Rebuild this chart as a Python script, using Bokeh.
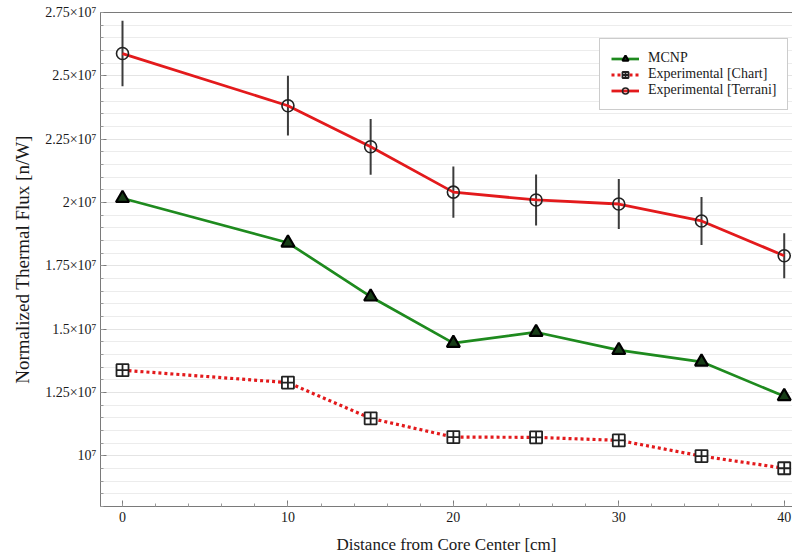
from bokeh.plotting import figure
from bokeh.models import (SingleIntervalTicker, LinearAxis, Legend, LegendItem,
                          Range1d, FixedTicker, ColumnDataSource)
from bokeh.embed import file_html
from bokeh.resources import INLINE

# ---- data ----
distance_cm = [0, 10, 15, 20, 25, 30, 35, 40]
mcnp = [2.017e7, 1.841e7, 1.628e7, 1.445e7, 1.488e7, 1.417e7, 1.371e7, 1.235e7]
exp_chart = [1.338e7, 1.289e7, 1.148e7, 1.074e7, 1.073e7, 1.061e7, 0.999e7, 0.951e7]
exp_terrani = [2.588e7, 2.382e7, 2.220e7, 2.041e7, 2.010e7, 1.994e7, 1.927e7, 1.790e7]
terrani_err = [0.129e7, 0.118e7, 0.110e7, 0.101e7, 0.101e7, 0.099e7, 0.095e7, 0.089e7]

y_tick_values = [10000000, 12500000, 15000000, 17500000, 20000000, 22500000, 25000000, 27500000]
y_tick_labels = ["10⁷", "1.25×10⁷", "1.5×10⁷", "1.75×10⁷", "2×10⁷", "2.25×10⁷", "2.5×10⁷", "2.75×10⁷"]

x_label = "Distance from Core Center [cm]"
y_label = "Normalized Thermal Flux [n/W]"

FONT = "Liberation Serif"

src = ColumnDataSource(dict(
    x=distance_cm, mcnp=mcnp, chart=exp_chart, terrani=exp_terrani,
    lo=[v - e for v, e in zip(exp_terrani, terrani_err)],
    hi=[v + e for v, e in zip(exp_terrani, terrani_err)],
))

p = figure(width=792, height=556, x_range=Range1d(-1.33, 40.5),
           y_range=Range1d(8.0e6, 2.75e7), output_backend="svg",
           toolbar_location=None, min_border_left=100, min_border_right=0,
           min_border_top=12, min_border_bottom=50)
p.outline_line_color = None
p.background_fill_color = "white"

# axes
p.xaxis.ticker = SingleIntervalTicker(interval=10, num_minor_ticks=5)
p.yaxis.ticker = SingleIntervalTicker(interval=2.5e6, num_minor_ticks=5)
p.yaxis.major_label_overrides = dict(zip(y_tick_values, y_tick_labels))
for ax in (p.xaxis[0], p.yaxis[0]):
    ax.axis_line_color = "#7a7a7a"
    ax.major_tick_line_color = "#7a7a7a"
    ax.minor_tick_line_color = "#9a9a9a"
    ax.major_tick_in = 6
    ax.major_tick_out = 0
    ax.minor_tick_in = 3
    ax.minor_tick_out = 0
    ax.major_label_text_font = FONT
    ax.major_label_text_font_size = "14px"
    ax.major_label_text_color = "#1a1a1a"
    ax.axis_label_text_font = FONT
    ax.axis_label_text_font_style = "normal"
    ax.axis_label_text_color = "#1a1a1a"
p.xaxis.axis_label = x_label
p.yaxis.axis_label = y_label
p.xaxis.axis_label_text_font_size = "17px"
p.yaxis.axis_label_text_font_size = "19px"
p.xaxis.axis_label_standoff = 10
p.yaxis.axis_label_standoff = 9
p.yaxis.major_label_standoff = 4

top = LinearAxis(ticker=FixedTicker(ticks=[]), axis_line_color="#7a7a7a",
                 major_tick_line_color=None, minor_tick_line_color=None,
                 major_label_text_color=None, major_label_standoff=0)
p.add_layout(top, "above")

# grid
p.xgrid.grid_line_color = None
p.ygrid.grid_line_color = "#e4e4e4"
p.ygrid.minor_grid_line_color = "#ececec"

# series
RED = "#e31a1c"
GREEN = "#1e8a1e"

eb = p.segment(x0="x", y0="lo", x1="x", y1="hi", source=src,
               line_color="#3c3c3c", line_width=2)

l_mcnp = p.line("x", "mcnp", source=src, line_color=GREEN, line_width=2.7)
m_mcnp = p.scatter("x", "mcnp", source=src, marker="triangle", size=13,
                   line_color="black", line_width=2.2, fill_color="#173d17")

l_chart = p.line("x", "chart", source=src, line_color=RED, line_width=3.2,
                 line_dash="3 3")
m_chart = p.scatter("x", "chart", source=src, marker="square_cross", size=12,
                    line_color="#222222", line_width=1.8, fill_color="white")

l_ter = p.line("x", "terrani", source=src, line_color=RED, line_width=2.8)
m_ter = p.scatter("x", "terrani", source=src, marker="circle", size=12,
                  line_color="#222222", line_width=1.6, fill_color=None)

legend = Legend(items=[
    LegendItem(label="MCNP", renderers=[l_mcnp, m_mcnp]),
    LegendItem(label="Experimental [Chart]", renderers=[l_chart, m_chart]),
    LegendItem(label="Experimental [Terrani]", renderers=[l_ter, m_ter]),
], location=(499, 396))
legend.label_text_font = FONT
legend.label_text_font_size = "14px"
legend.label_text_color = "#1a1a1a"
legend.label_height = 15
legend.glyph_height = 15
legend.glyph_width = 28
legend.label_standoff = 9
legend.spacing = 0
legend.padding = 11
legend.margin = 0
legend.border_line_color = "#9a9a9a"
legend.border_line_width = 1
legend.background_fill_color = "white"
legend.background_fill_alpha = 1.0
p.add_layout(legend)

open("out.html", "w").write(file_html(p, INLINE))
